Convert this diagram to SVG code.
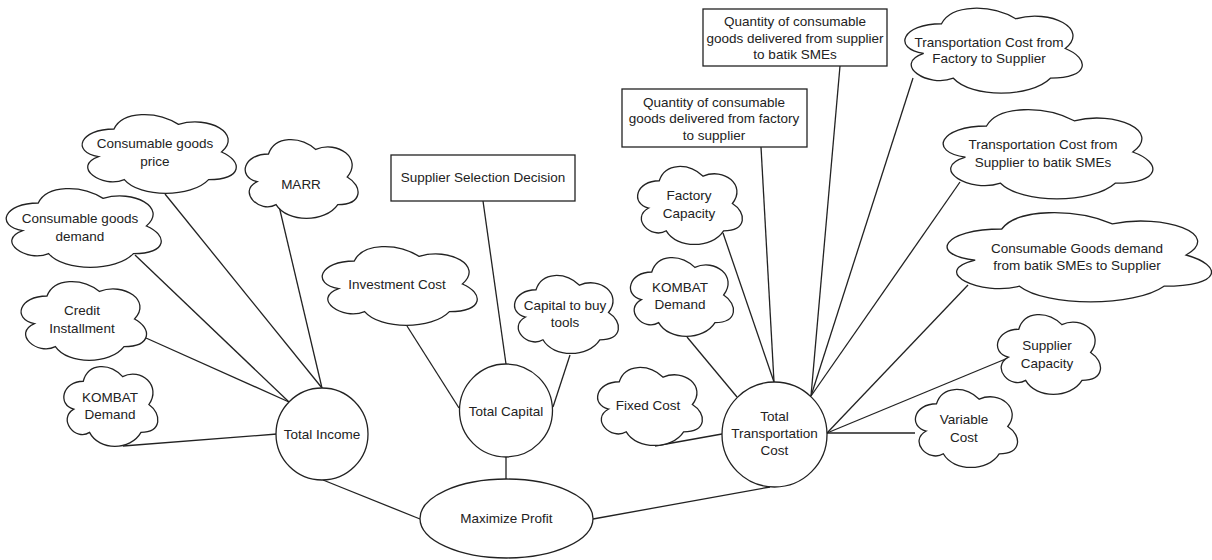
<svg xmlns="http://www.w3.org/2000/svg" xmlns:xlink="http://www.w3.org/1999/xlink" width="1212" height="560" viewBox="0 0 1212 560">
<style>
.shape{fill:#fff;stroke:#222;stroke-width:1.3}
.cl{vector-effect:non-scaling-stroke}
.edge line{stroke:#222;stroke-width:1.3}
text{font-family:"Liberation Sans",Arial,sans-serif;font-size:13.5px;fill:#222;text-anchor:middle}
</style>
<defs>
<path id="cloud" class="cl" d="M0.25 0.25C0.05 0.25 0 0.5 0.16 0.55C0 0.66 0.18 0.9 0.31 0.8C0.4 1 0.7 1 0.8 0.8C1 0.8 1 0.6 0.875 0.5C1 0.3 0.8 0.1 0.625 0.2C0.5 0.05 0.3 0.05 0.25 0.25Z"/>
</defs>
<rect width="1212" height="560" fill="#fff"/>
<g id="connectors" class="edge">
<line x1="165" y1="194" x2="322" y2="388"/>
<line x1="279" y1="206" x2="322" y2="388"/>
<line x1="135" y1="255" x2="289" y2="402"/>
<line x1="146" y1="338" x2="289" y2="402"/>
<line x1="123" y1="446" x2="277" y2="434"/>
<line x1="323" y1="480" x2="420" y2="519"/>
<line x1="407" y1="326" x2="459" y2="408"/>
<line x1="570" y1="355" x2="553" y2="407"/>
<line x1="483" y1="201" x2="506" y2="364"/>
<line x1="506" y1="457" x2="506" y2="479"/>
<line x1="593" y1="519" x2="770" y2="487"/>
<line x1="655" y1="446" x2="722" y2="434"/>
<line x1="687" y1="337" x2="737" y2="397"/>
<line x1="723" y1="233" x2="774" y2="382"/>
<line x1="761" y1="147" x2="774" y2="382"/>
<line x1="840" y1="66" x2="811" y2="396"/>
<line x1="913" y1="78" x2="811" y2="396"/>
<line x1="960" y1="182" x2="811" y2="396"/>
<line x1="968" y1="285" x2="827" y2="433"/>
<line x1="1008" y1="358" x2="827" y2="433"/>
<line x1="915" y1="433" x2="827" y2="433"/>
</g>
<g id="cons-goods-price"><use href="#cloud" class="shape" transform="translate(71 106) scale(172 92)"/><text x="155" y="148">Consumable goods</text><text x="155" y="166">price</text></g>
<g id="cons-goods-demand"><use href="#cloud" class="shape" transform="translate(-5 180) scale(173 92)"/><text x="80" y="223">Consumable goods</text><text x="80" y="241">demand</text></g>
<g id="marr"><use href="#cloud" class="shape" transform="translate(237 131) scale(126 92)"/><text x="301" y="189">MARR</text></g>
<g id="credit-installment"><use href="#cloud" class="shape" transform="translate(12 273) scale(140 92)"/><text x="82" y="315">Credit</text><text x="82" y="333">Installment</text></g>
<g id="kombat-demand-left"><use href="#cloud" class="shape" transform="translate(57 358) scale(105 93)"/><text x="110" y="402">KOMBAT</text><text x="110" y="419">Demand</text></g>
<g id="investment-cost"><use href="#cloud" class="shape" transform="translate(311 238) scale(173 92)"/><text x="397" y="289">Investment Cost</text></g>
<g id="capital-tools"><use href="#cloud" class="shape" transform="translate(507 267) scale(116 91)"/><text x="565" y="310">Capital to buy</text><text x="565" y="327">tools</text></g>
<g id="fixed-cost"><use href="#cloud" class="shape" transform="translate(590 359) scale(117 91)"/><text x="648" y="410">Fixed Cost</text></g>
<g id="kombat-demand-right"><use href="#cloud" class="shape" transform="translate(623 249) scale(115 92)"/><text x="680" y="292">KOMBAT</text><text x="680" y="309">Demand</text></g>
<g id="factory-capacity"><use href="#cloud" class="shape" transform="translate(630 158) scale(117 91)"/><text x="689" y="200">Factory</text><text x="689" y="218">Capacity</text></g>
<g id="tc-factory-supplier"><use href="#cloud" class="shape" transform="translate(892 -1) scale(198 99)"/><text x="989" y="47">Transportation Cost from</text><text x="989" y="63">Factory to Supplier</text></g>
<g id="tc-supplier-smes"><use href="#cloud" class="shape" transform="translate(928 100) scale(234 104)"/><text x="1043" y="149">Transportation Cost from</text><text x="1043" y="167">Supplier to batik SMEs</text></g>
<g id="cg-demand-smes"><use href="#cloud" class="shape" transform="translate(928 203) scale(295 104)"/><text x="1077" y="253">Consumable Goods demand</text><text x="1077" y="270">from batik SMEs to Supplier</text></g>
<g id="supplier-capacity"><use href="#cloud" class="shape" transform="translate(990 306) scale(115 93)"/><text x="1047" y="350">Supplier</text><text x="1047" y="368">Capacity</text></g>
<g id="variable-cost"><use href="#cloud" class="shape" transform="translate(908 381) scale(114 91)"/><text x="964" y="424">Variable</text><text x="964" y="442">Cost</text></g>
<g id="supplier-selection"><rect class="shape" x="391" y="155" width="184" height="46"/><text x="483" y="182">Supplier Selection Decision</text></g>
<g id="qty-factory-supplier"><rect class="shape" x="622" y="89" width="185" height="58"/><text x="714" y="107">Quantity of consumable</text><text x="714" y="123">goods delivered from factory</text><text x="714" y="140">to supplier</text></g>
<g id="qty-supplier-smes"><rect class="shape" x="703" y="9" width="184" height="57"/><text x="795" y="26">Quantity of consumable</text><text x="795" y="43">goods delivered from supplier</text><text x="795" y="59">to batik SMEs</text></g>
<g id="total-income"><circle class="shape" cx="322" cy="434" r="46"/><text x="322" y="439">Total Income</text></g>
<g id="total-capital"><circle class="shape" cx="506" cy="410.5" r="46.5"/><text x="506" y="416">Total Capital</text></g>
<g id="total-transportation-cost"><circle class="shape" cx="774.5" cy="434.5" r="52.5"/><text x="774.5" y="421">Total</text><text x="774.5" y="438">Transportation</text><text x="774.5" y="455">Cost</text></g>
<g id="maximize-profit"><ellipse class="shape" cx="506.5" cy="518.5" rx="86.5" ry="39.5"/><text x="506.5" y="523">Maximize Profit</text></g>
</svg>
